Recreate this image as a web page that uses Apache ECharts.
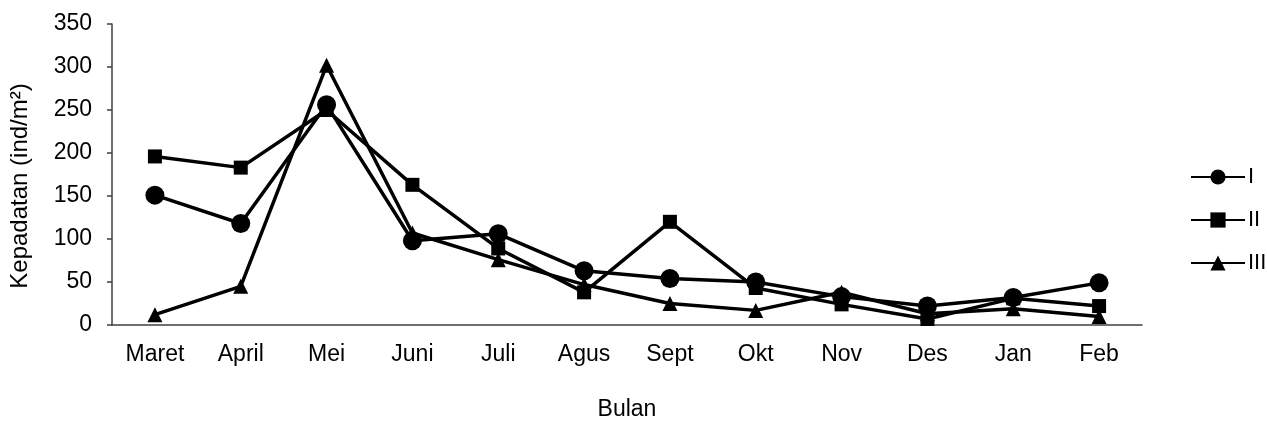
<!DOCTYPE html>
<html><head><meta charset="utf-8">
<script src="https://cdn.jsdelivr.net/npm/echarts@6/dist/echarts.min.js"></script>
<style>html,body{margin:0;padding:0;background:#fff}#c{width:1267px;height:426px}</style>
</head><body><div id="c"></div>
<script>
const categories = ['Maret','April','Mei','Juni','Juli','Agus','Sept','Okt','Nov','Des','Jan','Feb'];
const seriesI   = [151, 118, 256, 98, 106, 63, 54, 50, 33, 22, 32, 49];
const seriesII  = [196, 183, 250, 163, 89, 38, 120, 43, 24, 7, 31, 22];
const seriesIII = [12, 45, 302, 107, 76, 47, 25, 17, 38, 13, 19, 10];
const yTicks = [0, 50, 100, 150, 200, 250, 300, 350];

const font = 'Liberation Sans, Arial, sans-serif';
const chart = echarts.init(document.getElementById('c'), null, {renderer:'canvas'});
function mk(name, data, symbol, size){
  return {name, type:'line', data, symbol, symbolSize:size,
    lineStyle:{color:'#000', width:3.5}, itemStyle:{color:'#000'},
    emphasis:{disabled:true}, animation:false};
}
chart.setOption({
  animation:false,
  grid:{left:112, right:125, top:24, bottom:95},
  legend:{orient:'vertical', left:1185, top:161, itemWidth:54, itemHeight:19, itemGap:21,
    data:['I','II','III'],
    textStyle:{fontFamily:font, fontSize:22, color:'#000', padding:[0,0,0,-2]}},
  graphic:[{type:'text', rotation:Math.PI/2,
    x:20, y:186,
    style:{text:'Kepadatan (ind/m²)', font:'24px Liberation Sans, Arial, sans-serif', fill:'#000',
      align:'center', verticalAlign:'middle'}}],
  xAxis:{type:'category', data:categories, boundaryGap:true,
    name:'Bulan', nameLocation:'middle', nameGap:73,
    nameTextStyle:{fontFamily:font, fontSize:23, color:'#000'},
    axisLine:{lineStyle:{color:'#404040', width:1.5}}, axisTick:{show:false},
    axisLabel:{fontFamily:font, fontSize:23, color:'#000', margin:18}},
  yAxis:{type:'value', min:yTicks[0], max:yTicks[yTicks.length-1], interval:50,
    splitLine:{show:false},
    axisLine:{show:true, lineStyle:{color:'#404040', width:1.5}},
    axisTick:{show:true, length:5, lineStyle:{color:'#404040', width:1.5}},
    axisLabel:{fontFamily:font, fontSize:23, color:'#000', margin:20}},
  series:[mk('I', seriesI, 'circle', 19), mk('II', seriesII, 'rect', 14), mk('III', seriesIII, 'triangle', 15)]
});
</script></body></html>
